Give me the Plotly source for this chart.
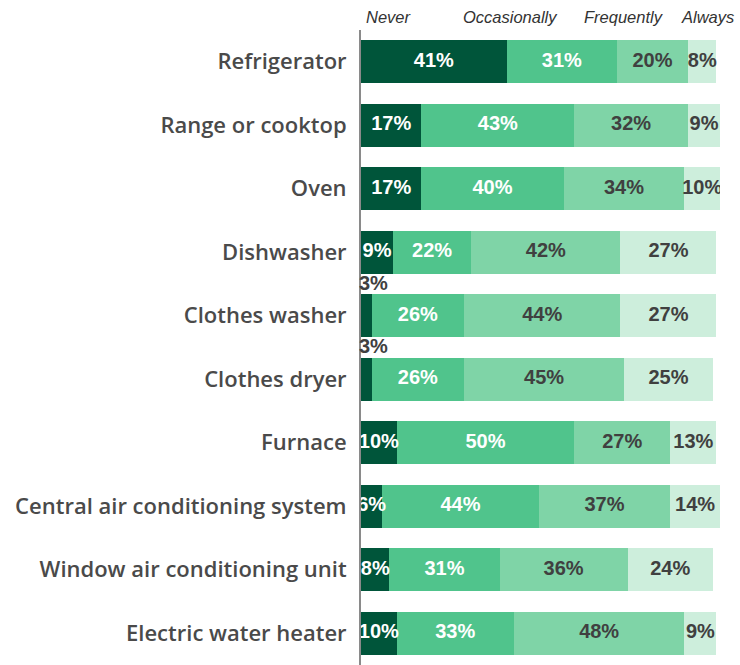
import numpy as np
import plotly.graph_objects as go

appliances = [
    "Refrigerator",
    "Range or cooktop",
    "Oven",
    "Dishwasher",
    "Clothes washer",
    "Clothes dryer",
    "Furnace",
    "Central air conditioning system",
    "Window air conditioning unit",
    "Electric water heater",
]
never = [41, 17, 17, 9, 3, 3, 10, 6, 8, 10]
occasionally = [31, 43, 40, 22, 26, 26, 50, 44, 31, 33]
frequently = [20, 32, 34, 42, 44, 45, 27, 37, 36, 48]
always = [8, 9, 10, 27, 27, 25, 13, 14, 24, 9]

series_names = ["Never", "Occasionally", "Frequently", "Always"]
series_values = [never, occasionally, frequently, always]
colors = ["#00553a", "#50c48c", "#7fd4a7", "#cdeedc"]
label_colors = ["#ffffff", "#ffffff", "#404040", "#404040"]

# header label positions (percent scale) for the response columns
header_x = [8, 42, 74, 97.5]

fig = go.Figure()

vals = np.array(series_values, dtype=float)
starts = np.vstack([np.zeros(vals.shape[1]), np.cumsum(vals, axis=0)[:-1]])
mids = starts + vals / 2

for name, v, c in zip(series_names, series_values, colors):
    fig.add_trace(go.Bar(
        y=appliances, x=v, name=name, orientation="h",
        marker=dict(color=c, line=dict(width=0)),
        showlegend=False, hoverinfo="skip",
    ))

pct_font = "Liberation Sans, Arial, sans-serif"

# value labels centred on each segment; tiny segments get their label above the bar
for i, name in enumerate(series_names):
    xs, ys, ts = [], [], []
    for j, cat in enumerate(appliances):
        v = series_values[i][j]
        if v < 5:
            fig.add_annotation(
                x=starts[i][j], y=cat, xref="x", yref="y",
                text=f"<b>{v}%</b>", showarrow=False,
                xanchor="left", yanchor="middle", xshift=-4, yshift=33,
                font=dict(family=pct_font, size=20, color="#404040"),
            )
            continue
        xs.append(mids[i][j])
        ys.append(cat)
        ts.append(f"<b>{v}%</b>")
    fig.add_trace(go.Scatter(
        x=xs, y=ys, text=ts, mode="text", textposition="middle center",
        textfont=dict(family=pct_font, size=20, color=label_colors[i]),
        showlegend=False, hoverinfo="skip", cliponaxis=True,
    ))

for name, hx in zip(series_names, header_x):
    fig.add_annotation(
        x=hx, y=1.0, xref="x", yref="paper", text=f"<i>{name}</i>",
        showarrow=False, yanchor="bottom", yshift=2,
        font=dict(family=pct_font, size=16.5, color="#333333"),
    )

fig.update_layout(
    barmode="stack",
    bargap=0.32,
    width=740, height=665,
    margin=dict(l=361, r=20, t=30, b=0),
    paper_bgcolor="white", plot_bgcolor="white",
    xaxis=dict(range=[0, 101], visible=False, fixedrange=True),
    yaxis=dict(
        autorange="reversed", showgrid=False, zeroline=False,
        showline=True, linecolor="#8a8a8a", linewidth=2,
        ticks="", ticklabelstandoff=8,
        tickfont=dict(family="Open Sans, sans-serif", size=22, color="#4a4a4a", weight=600),
    ),
)

fig.write_html("out.html")
